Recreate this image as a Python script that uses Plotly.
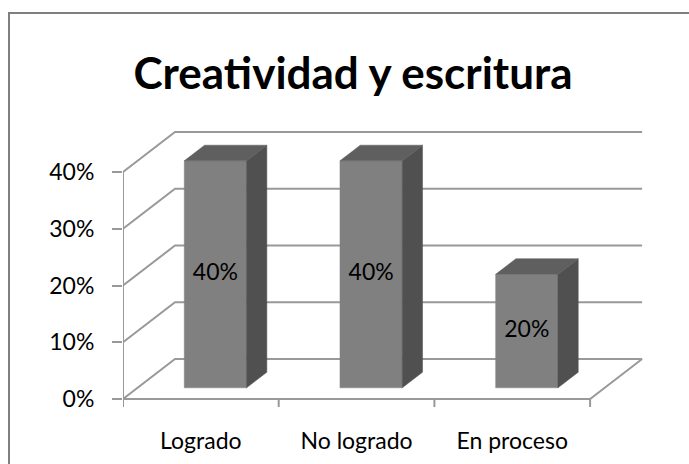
import plotly.graph_objects as go

# ---- data ----
categories = ["Logrado", "No logrado", "En proceso"]
values = [0.40, 0.40, 0.20]
value_labels = ["40%", "40%", "20%"]
y_ticks = [0.0, 0.1, 0.2, 0.3, 0.4]
y_tick_labels = ["0%", "10%", "20%", "30%", "40%"]

# ---- layout geometry (pixels) ----
W, H = 689, 464
L, R, T, B = 123, 44, 120, 54
PX_X = 155.7          # px per category unit
PX_Y = 567.5          # px per value unit
Y0_PX = 399           # px of value 0 on the front plane
plot_w = W - L - R
plot_h = H - T - B
x_range = [-0.5, -0.5 + plot_w / PX_X]
y_range = [-(T + plot_h - Y0_PX) / PX_Y, (Y0_PX - T) / PX_Y]

# oblique depth (full wall depth) in data units
DX = 52 / PX_X
DY = 40 / PX_Y
F0, F1 = 0.28, 0.67   # bar front/back depth fractions
BW = 0.40             # bar width (category units)

GRID = "#999999"
FRONT = "#808080"
SIDE = "#505050"
TOP = "#5f5f5f"
FONT = "Lato, Carlito, Calibri, sans-serif"

n = len(categories)
fig = go.Figure()

# grid: left wall diagonals + back wall horizontals
gx, gy = [], []
for v in y_ticks:
    gx += [-0.5, -0.5 + DX, n - 0.5 + DX, None]
    gy += [v, v + DY, v + DY, None]
# floor front & right edges, front vertical axis
gx += [-0.5, n - 0.5, n - 0.5 + DX, None, -0.5, -0.5, None]
gy += [0, 0, DY, None, 0, max(y_ticks), None]
# bottom category ticks
tick_len = 8 / PX_Y
for k in range(n + 1):
    gx += [k - 0.5, k - 0.5, None]
    gy += [0, -tick_len, None]
fig.add_trace(go.Scatter(x=gx, y=gy, mode="lines",
                         line=dict(color=GRID, width=2),
                         hoverinfo="skip", showlegend=False))

# 3D bars
for i, v in enumerate(values):
    x0 = i - BW / 2 + F0 * DX
    x1 = i + BW / 2 + F0 * DX
    b0 = F0 * DY
    ddx = (F1 - F0) * DX
    ddy = (F1 - F0) * DY
    faces = [
        ([x0, x1, x1, x0, x0], [b0, b0, b0 + v, b0 + v, b0], FRONT),
        ([x1, x1 + ddx, x1 + ddx, x1, x1],
         [b0, b0 + ddy, b0 + v + ddy, b0 + v, b0], SIDE),
        ([x0, x1, x1 + ddx, x0 + ddx, x0],
         [b0 + v, b0 + v, b0 + v + ddy, b0 + v + ddy, b0 + v], TOP),
    ]
    for fx, fy, col in faces:
        fig.add_trace(go.Scatter(x=fx, y=fy, mode="lines", fill="toself",
                                 fillcolor=col, line=dict(color=col, width=0.5),
                                 hoverinfo="skip", showlegend=False))

# value labels on front faces
fig.add_trace(go.Scatter(
    x=[i + F0 * DX for i in range(n)],
    y=[v / 2 + F0 * DY for v in values],
    mode="text", text=value_labels,
    textfont=dict(family=FONT, size=23, color="black"),
    hoverinfo="skip", showlegend=False))

fig.update_layout(
    width=W, height=H,
    margin=dict(l=L, r=R, t=T, b=B, autoexpand=False),
    paper_bgcolor="white", plot_bgcolor="white",
    title=dict(text="<b>Creatividad y escritura</b>", xref="container",
               x=353 / W, xanchor="center", yref="container",
               y=1 - 74 / H, yanchor="middle",
               font=dict(family=FONT, size=44, color="black")),
    xaxis=dict(range=x_range, tickvals=list(range(n)), ticktext=categories,
               showgrid=False, zeroline=False, showline=False, ticks="",
               tickfont=dict(family=FONT, size=23, color="black"),
               ticklabelstandoff=15, fixedrange=True),
    yaxis=dict(range=y_range, tickvals=y_ticks, ticktext=y_tick_labels,
               showgrid=False, zeroline=False, showline=False,
               ticks="outside", ticklen=10, tickcolor=GRID, tickwidth=2,
               tickfont=dict(family=FONT, size=23, color="black"),
               ticklabelstandoff=13, fixedrange=True),
    shapes=[dict(type="path", xref="paper", yref="paper",
                 path="M {a},{b} L {a},{c} L {d},{c}".format(
                     a=(9 - L) / plot_w, b=-(H + 10 - T - plot_h) / plot_h,
                     c=1 + (T - 13) / plot_h, d=1 + (R + 10) / plot_w),
                 line=dict(color="#7f7f7f", width=2))],
)

fig.write_html("out.html", config={"displayModeBar": False},
               post_script="document.body.style.margin='0px';")
